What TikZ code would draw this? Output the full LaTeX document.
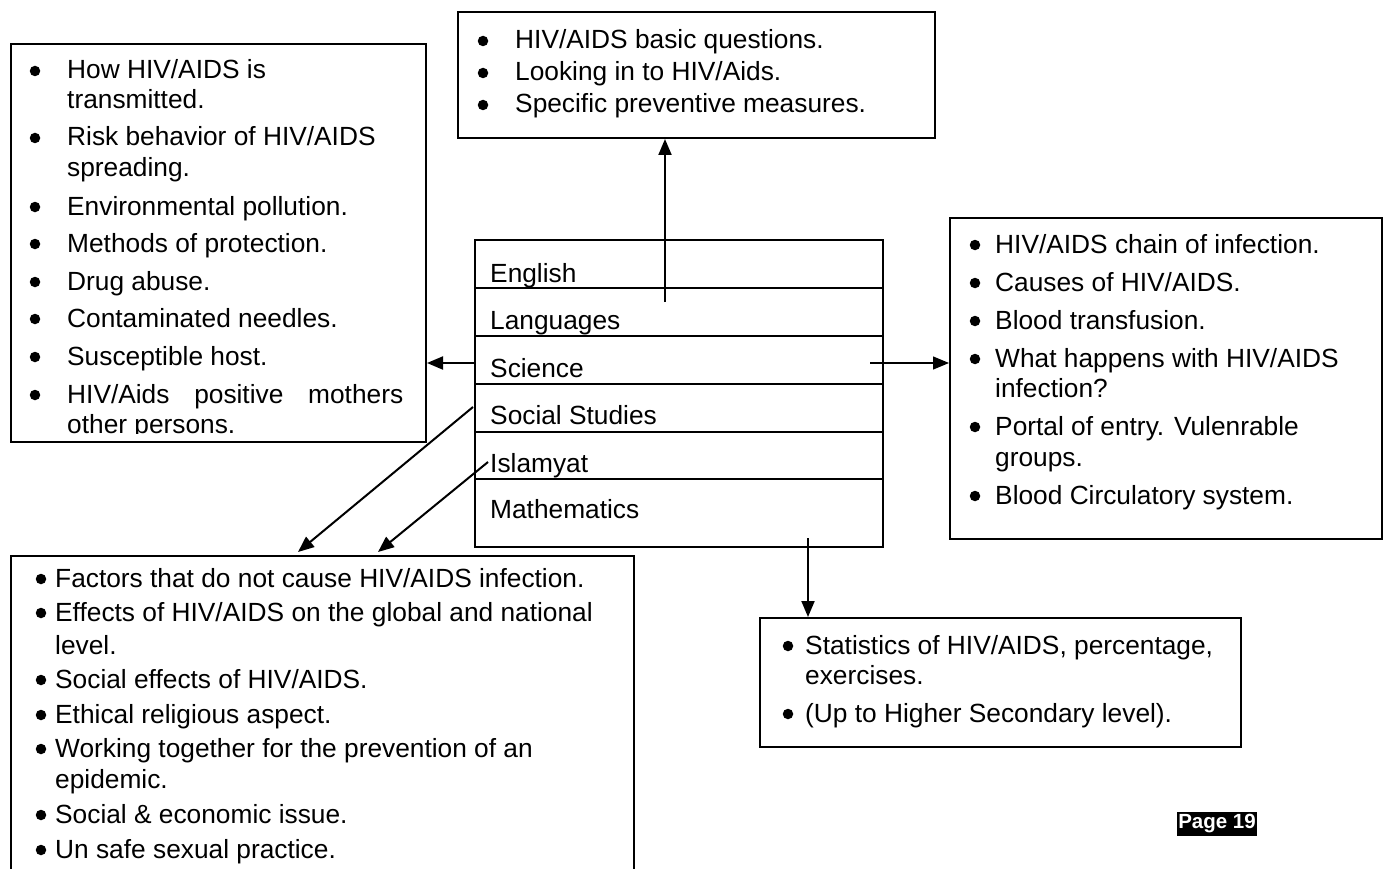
\documentclass[tikz,border=0pt]{standalone}
\usepackage{fontspec}
\setmainfont{Liberation Sans}
\usetikzlibrary{arrows.meta,calc}
\newcommand\putline[4]{\node[txt] (#1) at (#2,#3+9) {#4};}
\newcommand\putbul[3]{\node[bul] (#1) at (#2,#3+1) {};}
\begin{document}
\begin{tikzpicture}[x=1pt,y=-1pt,
  box/.style={draw, line width=2pt, inner sep=0pt, anchor=north west},
  rowbox/.style={draw, line width=1.5pt, inner sep=0pt, anchor=north west, minimum width=408pt},
  txt/.style={inner sep=0pt, anchor=base west, font=\fontsize{26.3}{30}\selectfont},
  bul/.style={circle, fill=black, inner sep=0pt, minimum size=10.5pt},
  conn/.style={line width=2pt, -{Triangle[length=16pt,width=13pt]}},
  connthin/.style={line width=1.3pt, -{Triangle[length=16pt,width=13pt]}}]
\useasboundingbox (0,0) rectangle (1388,869);

% boxes
\node[box, minimum width=477pt, minimum height=126pt] (top) at (457,11) {};
\node[box, minimum width=415pt, minimum height=398pt] (left) at (10,43) {};
\node[box, minimum width=432pt, minimum height=321pt] (right) at (949,217) {};
\node[box, minimum width=623pt, minimum height=320pt] (bl) at (10,555) {};
\node[box, minimum width=481pt, minimum height=129pt] (br) at (759,617) {};

% center subject table
\node[rowbox, minimum height=48pt] (eng) at (474,239) {};
\node[rowbox, minimum height=48pt] (lang) at (474,287) {};
\node[rowbox, minimum height=48pt] (sci) at (474,335) {};
\node[rowbox, minimum height=48pt] (soc) at (474,383) {};
\node[rowbox, minimum height=47pt] (isl) at (474,431) {};
\node[rowbox, minimum height=68pt] (math) at (474,478) {};
\node[txt] (tEng) at (490,282) {English};
\node[txt] (tLang) at (490,329) {Languages};
\node[txt] (tSci) at (490,377) {Science};
\node[txt] (tSoc) at (490,424) {Social Studies};
\node[txt] (tIsl) at (490,472) {Islamyat};
\node[txt] (tMath) at (490,518) {Mathematics};

% top box text
\putbul{b1}{483}{40}\putline{t1}{515}{40}{HIV/AIDS basic questions.}
\putbul{b2}{483}{72}\putline{t2}{515}{72}{Looking in to HIV/Aids.}
\putbul{b3}{483}{104}\putline{t3}{515}{104}{Specific preventive measures.}

% left box text
\putbul{l1}{35}{70}\putline{lt1}{67}{70}{How HIV/AIDS is}
\putline{lt1b}{67}{100}{transmitted.}
\putbul{l2}{35}{137}\putline{lt2}{67}{137}{Risk behavior of HIV/AIDS}
\putline{lt2b}{67}{168}{spreading.}
\putbul{l3}{35}{206}\putline{lt3}{67}{206}{Environmental pollution.}
\putbul{l4}{35}{243}\putline{lt4}{67}{243}{Methods of protection.}
\putbul{l5}{35}{281}\putline{lt5}{67}{281}{Drug abuse.}
\putbul{l6}{35}{318}\putline{lt6}{67}{318}{Contaminated needles.}
\putbul{l7}{35}{356}\putline{lt7}{67}{356}{Susceptible host.}
\putbul{l8}{35}{394}\putline{lt8}{67}{394}{\makebox[336pt][s]{HIV/Aids positive mothers}}
\begin{scope}
\clip (10,300) rectangle (425,433);
\putline{lt8b}{67}{424}{other persons.}
\end{scope}

% right box text
\putbul{r1}{975}{244}\putline{rt1}{995}{244}{HIV/AIDS chain of infection.}
\putbul{r2}{975}{282}\putline{rt2}{995}{282}{Causes of HIV/AIDS.}
\putbul{r3}{975}{320}\putline{rt3}{995}{320}{Blood transfusion.}
\putbul{r4}{975}{358}\putline{rt4}{995}{358}{What happens with HIV/AIDS}
\putline{rt4b}{995}{388}{infection?}
\putbul{r5}{975}{426}\putline{rt5}{995}{426}{Portal of entry. Vulenrable}
\putline{rt5b}{995}{457}{groups.}
\putbul{r6}{975}{495}\putline{rt6}{995}{495}{Blood Circulatory system.}

% bottom-left box text
\putbul{k1}{41}{578}\putline{kt1}{55}{578}{Factors that do not cause HIV/AIDS infection.}
\putbul{k2}{41}{612}\putline{kt2}{55}{612}{Effects of HIV/AIDS on the global and national}
\putline{kt2b}{55}{645}{level.}
\putbul{k3}{41}{679}\putline{kt3}{55}{679}{Social effects of HIV/AIDS.}
\putbul{k4}{41}{714}\putline{kt4}{55}{714}{Ethical religious aspect.}
\putbul{k5}{41}{748}\putline{kt5}{55}{748}{Working together for the prevention of an}
\putline{kt5b}{55}{779}{epidemic.}
\putbul{k6}{41}{814}\putline{kt6}{55}{814}{Social \& economic issue.}
\putbul{k7}{41}{849}\putline{kt7}{55}{849}{Un safe sexual practice.}

% bottom-right box text
\putbul{s1}{788}{645}\putline{st1}{805}{645}{Statistics of HIV/AIDS, percentage,}
\putline{st1b}{805}{675}{exercises.}
\putbul{s2}{788}{713}\putline{st2}{805}{713}{(Up to Higher Secondary level).}

% connectors
\coordinate (upS) at (665,302);
\draw[conn] (upS) -- (upS |- top.south);
\coordinate (sciL) at (474,363);
\draw[conn] (sciL) -- (sciL -| left.east);
\coordinate (sciR) at (870,363);
\draw[connthin] (sciR) -- (sciR -| right.west);
\coordinate (socS) at (473,407);
\coordinate (socE) at ($(bl.north west)+(288,-3)$);
\draw[conn] (socS) -- (socE);
\coordinate (islS) at (488,462);
\coordinate (islE) at ($(bl.north west)+(368,-3)$);
\draw[conn] (islS) -- (islE);
\coordinate (mathS) at (808,538);
\draw[conn] (mathS) -- (mathS |- br.north);

% page label
\node[fill=black, text=white, inner xsep=1.5pt, inner ysep=3pt,
      font=\bfseries\fontsize{20.5}{20.5}\selectfont] (page) at (1217,824) {Page 19};
\end{tikzpicture}
\end{document}
